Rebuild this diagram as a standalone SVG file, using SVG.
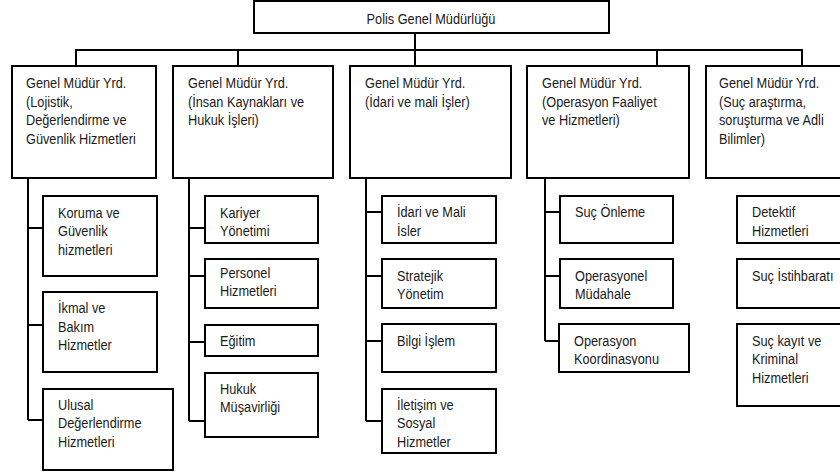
<svg xmlns="http://www.w3.org/2000/svg" width="840" height="474" viewBox="0 0 840 474">
<style>
.box{fill:#fff;stroke:#000;stroke-width:2}
.lbl{font-family:"Liberation Sans",Arial,sans-serif;font-size:15px;fill:#1a1a1a}
.con{fill:none;stroke:#000;stroke-width:2}
</style>
<defs>
<clipPath id="clipKoord"><rect x="559" y="324" width="130" height="41"/></clipPath>
<clipPath id="clipIlet"><rect x="382" y="389" width="114" height="58"/></clipPath>
</defs>
<rect width="840" height="474" fill="#fff"/>
<g id="connectors">
<path class="con" d="M415 33V50M76 66V50H802V66M238 50V66M415 50V66M657 50V66"/>
<path class="con" d="M28 178V420M28 228H43M28 325H43M28 420H43"/>
<path class="con" d="M189 178V421M189 228H205M189 276H205M189 342H205M189 421H205"/>
<path class="con" d="M366 178V421M366 212H382M366 276H382M366 341H382M366 421H382"/>
<path class="con" d="M545 178V341M545 212H559M545 276H559M545 341H559"/>
</g>
<g id="root"><rect class="box" x="254" y="1" width="355" height="32"/><text class="lbl" transform="translate(431 0) scale(0.85 1)" x="0" y="24" text-anchor="middle">Polis Genel Müdürlüğü</text></g>
<g id="gmy1"><rect class="box" x="12" y="66" width="144" height="112"/><text class="lbl" transform="translate(26 0) scale(0.85 1)"><tspan x="0" y="88">Genel Müdür Yrd.</tspan><tspan x="0" y="106.6">(Lojistik,</tspan><tspan x="0" y="125.2">Değerlendirme ve</tspan><tspan x="0" y="143.8">Güvenlik Hizmetleri</tspan></text></g>
<g id="gmy2"><rect class="box" x="173" y="66" width="160" height="112"/><text class="lbl" transform="translate(188 0) scale(0.85 1)"><tspan x="0" y="88">Genel Müdür Yrd.</tspan><tspan x="0" y="106.6">(İnsan Kaynakları ve</tspan><tspan x="0" y="125.2">Hukuk İşleri)</tspan></text></g>
<g id="gmy3"><rect class="box" x="350" y="66" width="161" height="112"/><text class="lbl" transform="translate(365 0) scale(0.85 1)"><tspan x="0" y="88">Genel Müdür Yrd.</tspan><tspan x="0" y="106.6">(İdari ve mali İşler)</tspan></text></g>
<g id="gmy4"><rect class="box" x="527" y="66" width="162" height="112"/><text class="lbl" transform="translate(542 0) scale(0.85 1)"><tspan x="0" y="88">Genel Müdür Yrd.</tspan><tspan x="0" y="106.6">(Operasyon Faaliyet</tspan><tspan x="0" y="125.2">ve Hizmetleri)</tspan></text></g>
<g id="gmy5"><rect class="box" x="706" y="66" width="140" height="112"/><text class="lbl" transform="translate(719 0) scale(0.85 1)"><tspan x="0" y="88">Genel Müdür Yrd.</tspan><tspan x="0" y="106.6">(Suç araştırma,</tspan><tspan x="0" y="125.2">soruşturma ve Adli</tspan><tspan x="0" y="143.8">Bilimler)</tspan></text></g>
<g id="koruma"><rect class="box" x="43" y="196" width="114" height="80"/><text class="lbl" transform="translate(58 0) scale(0.85 1)"><tspan x="0" y="218">Koruma ve</tspan><tspan x="0" y="236.5">Güvenlik</tspan><tspan x="0" y="255">hizmetleri</tspan></text></g>
<g id="ikmal"><rect class="box" x="43" y="292" width="114" height="80"/><text class="lbl" transform="translate(58 0) scale(0.85 1)"><tspan x="0" y="313.5">İkmal ve</tspan><tspan x="0" y="332">Bakım</tspan><tspan x="0" y="350.5">Hizmetler</tspan></text></g>
<g id="ulusal"><rect class="box" x="43" y="389" width="130" height="81"/><text class="lbl" transform="translate(58 0) scale(0.85 1)"><tspan x="0" y="410">Ulusal</tspan><tspan x="0" y="428.5">Değerlendirme</tspan><tspan x="0" y="447">Hizmetleri</tspan></text></g>
<g id="kariyer"><rect class="box" x="205" y="196" width="113" height="47"/><text class="lbl" transform="translate(220 0) scale(0.85 1)"><tspan x="0" y="218">Kariyer</tspan><tspan x="0" y="236.5">Yönetimi</tspan></text></g>
<g id="personel"><rect class="box" x="205" y="259" width="113" height="49"/><text class="lbl" transform="translate(220 0) scale(0.85 1)"><tspan x="0" y="278">Personel</tspan><tspan x="0" y="296.5">Hizmetleri</tspan></text></g>
<g id="egitim"><rect class="box" x="205" y="325" width="113" height="31"/><text class="lbl" transform="translate(220 0) scale(0.85 1)" x="0" y="346">Eğitim</text></g>
<g id="hukuk"><rect class="box" x="205" y="373" width="113" height="64"/><text class="lbl" transform="translate(220 0) scale(0.85 1)"><tspan x="0" y="394">Hukuk</tspan><tspan x="0" y="412.5">Müşavirliği</tspan></text></g>
<g id="idari"><rect class="box" x="382" y="196" width="114" height="47"/><text class="lbl" transform="translate(397 0) scale(0.85 1)"><tspan x="0" y="217.5">İdari ve Mali</tspan><tspan x="0" y="236">İsler</tspan></text></g>
<g id="stratejik"><rect class="box" x="382" y="259" width="114" height="49"/><text class="lbl" transform="translate(397 0) scale(0.85 1)"><tspan x="0" y="281">Stratejik</tspan><tspan x="0" y="299.5">Yönetim</tspan></text></g>
<g id="bilgi"><rect class="box" x="382" y="324" width="114" height="48"/><text class="lbl" transform="translate(397 0) scale(0.85 1)" x="0" y="346">Bilgi İşlem</text></g>
<g id="iletisim"><rect class="box" x="382" y="389" width="114" height="64"/><g clip-path="url(#clipIlet)"><text class="lbl" transform="translate(397 0) scale(0.85 1)"><tspan x="0" y="410">İletişim ve</tspan><tspan x="0" y="428.5">Sosyal</tspan><tspan x="0" y="447">Hizmetler</tspan></text></g></g>
<g id="sucOnleme"><rect class="box" x="560" y="196" width="113" height="47"/><text class="lbl" transform="translate(575 0) scale(0.85 1)" x="0" y="217.5">Suç Önleme</text></g>
<g id="operasyonel"><rect class="box" x="560" y="259" width="113" height="49"/><text class="lbl" transform="translate(575 0) scale(0.85 1)"><tspan x="0" y="281">Operasyonel</tspan><tspan x="0" y="299.5">Müdahale</tspan></text></g>
<g id="koordinasyon"><rect class="box" x="559" y="324" width="130" height="48"/><g clip-path="url(#clipKoord)"><text class="lbl" transform="translate(574 0) scale(0.85 1)"><tspan x="0" y="346">Operasyon</tspan><tspan x="0" y="364.5">Koordinasyonu</tspan></text></g></g>
<g id="detektif"><rect class="box" x="737" y="196" width="110" height="47"/><text class="lbl" transform="translate(752 0) scale(0.85 1)"><tspan x="0" y="217.5">Detektif</tspan><tspan x="0" y="236">Hizmetleri</tspan></text></g>
<g id="istihbarat"><rect class="box" x="737" y="259" width="110" height="49"/><text class="lbl" transform="translate(752 0) scale(0.85 1)" x="0" y="281">Suç İstihbaratı</text></g>
<g id="kayit"><rect class="box" x="737" y="324" width="110" height="82"/><text class="lbl" transform="translate(752 0) scale(0.85 1)"><tspan x="0" y="346">Suç kayıt ve</tspan><tspan x="0" y="364.5">Kriminal</tspan><tspan x="0" y="383">Hizmetleri</tspan></text></g>
</svg>
